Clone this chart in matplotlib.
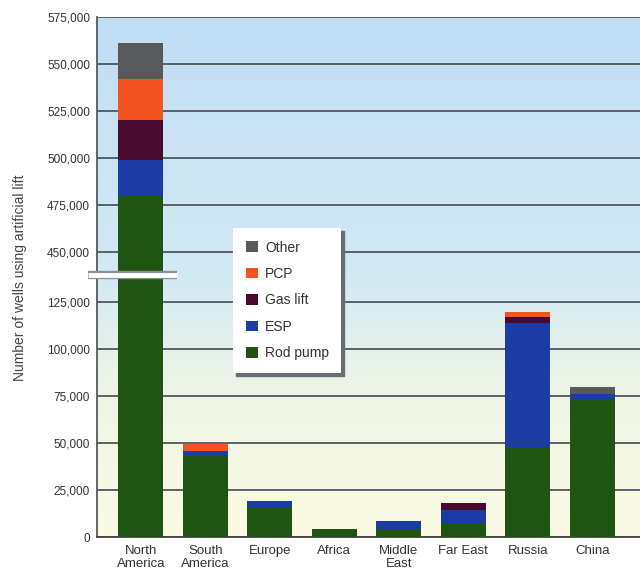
import numpy as np
import matplotlib
matplotlib.use('Agg')
import matplotlib.pyplot as plt
from matplotlib.colors import LinearSegmentedColormap
from matplotlib.lines import Line2D
from matplotlib.ticker import FuncFormatter

plt.rcParams['font.family'] = ['Liberation Sans', 'DejaVu Sans']

# wells using each artificial lift method, by region
regions = ['North\nAmerica', 'South\nAmerica', 'Europe', 'Africa',
           'Middle\nEast', 'Far East', 'Russia', 'China']
rod_pump = [480000, 43000, 16000, 4200, 4500, 7500, 48000, 73400]
esp = [19000, 3000, 3300, 0, 4000, 7000, 65700, 2700]
gas_lift = [21000, 0, 0, 0, 0, 3800, 3500, 0]
pcp = [22000, 3500, 0, 0, 0, 0, 2600, 0]
other = [19000, 0, 0, 0, 0, 0, 0, 3900]

series = [('Rod pump', rod_pump, '#1f5412'),
          ('ESP', esp, '#1b3ca4'),
          ('Gas lift', gas_lift, '#4a0a2e'),
          ('PCP', pcp, '#f2541f'),
          ('Other', other, '#58595b')]

upper_ticks = [450000, 475000, 500000, 525000, 550000, 575000]
lower_ticks = [0, 25000, 50000, 75000, 100000, 125000]

fig = plt.figure(figsize=(6.4, 5.8), dpi=100)
left, right = 97 / 640, 1.0
y_top, y_break, y_bot = 1 - 17 / 580, 1 - 277 / 580, 1 - 537 / 580

# soft blue-to-cream background behind the plot area
bg = fig.add_axes([left, y_bot, right - left, y_top - y_bot])
cmap = LinearSegmentedColormap.from_list(
    'bg', [(0, '#c0ddf5'), (0.5, '#d3eaf4'), (0.72, '#eef5e6'), (1, '#fbfbe3')])
bg.imshow(np.linspace(0, 1, 256).reshape(-1, 1), aspect='auto', cmap=cmap,
          extent=[0, 1, 1, 0])
bg.set_axis_off()

ax_up = fig.add_axes([left, y_break, right - left, y_top - y_break])
ax_lo = fig.add_axes([left, y_bot, right - left, y_break - y_bot])

x = np.arange(len(regions))
fmt = FuncFormatter(lambda v, p: f'{int(v):,}')
for ax in (ax_up, ax_lo):
    ax.set_facecolor('none')
    bottom = np.zeros(len(regions))
    for name, vals, color in series:
        ax.bar(x, vals, 0.7, bottom=bottom, color=color, label=name, zorder=3)
        bottom += np.array(vals)
    ax.set_xlim(-0.68, 7.74)
    ax.yaxis.set_major_formatter(fmt)
    ax.grid(axis='y', color='#50565c', lw=1.3, zorder=1)
    for s in ('top', 'right', 'bottom'):
        ax.spines[s].set_visible(False)
    ax.spines['left'].set_color('#555a5e')
    ax.spines['left'].set_linewidth(1.3)
    ax.tick_params(axis='y', length=0, pad=5, labelsize=8.5, labelcolor='#333333')
    ax.tick_params(axis='x', length=0)

ax_up.set_ylim(436700, 575000)
ax_up.set_yticks(upper_ticks)
ax_up.set_xticks([])
ax_lo.set_ylim(0, 138300)
ax_lo.set_yticks(lower_ticks)
ax_lo.set_xticks(x)
ax_lo.set_xticklabels(regions, fontsize=9.5, color='#333333', linespacing=1.05)
ax_lo.tick_params(axis='x', pad=6)
ax_lo.spines['bottom'].set_visible(True)
ax_lo.spines['bottom'].set_color('#444444')
ax_lo.spines['bottom'].set_linewidth(1.3)

# break marker across the axis
yb = y_break + 2 / 580
fig.add_artist(Line2D([88 / 640, 177 / 640], [yb, yb], color='#8a9096', lw=6,
                      solid_capstyle='butt'))
fig.add_artist(Line2D([88 / 640, 177 / 640], [yb, yb], color='white', lw=3.5,
                      solid_capstyle='butt'))

fig.text(20 / 640, 1 - 278 / 580, 'Number of wells using artificial lift',
         rotation=90, ha='center', va='center', fontsize=10, color='#444444')

handles, labels = ax_lo.get_legend_handles_labels()
leg = fig.legend(handles[::-1], labels[::-1], loc='upper left',
                 bbox_to_anchor=(233 / 640, 1 - 228 / 580), borderaxespad=0,
                 fontsize=10, frameon=True, fancybox=False,
                 shadow={'color': '#6a6e72', 'alpha': 1},
                 handlelength=0.9, handleheight=0.8, handletextpad=0.5,
                 labelspacing=0.9, borderpad=0.9)
leg.get_frame().set_edgecolor('none')
leg.get_frame().set_facecolor('white')
for t in leg.get_texts():
    t.set_color('#333333')

fig.savefig('out.png', dpi=100)
